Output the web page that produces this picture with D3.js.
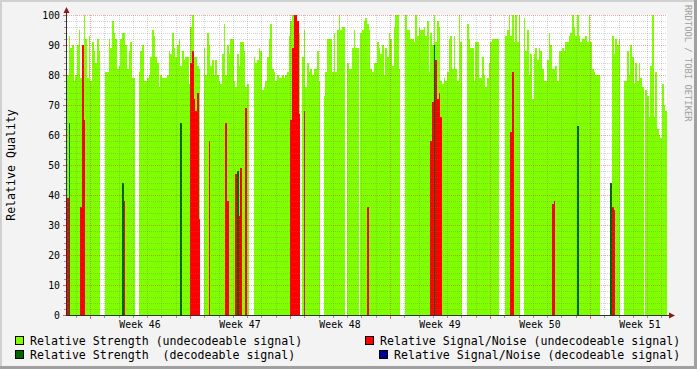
<!DOCTYPE html>
<html><head><meta charset="utf-8">
<script src="https://cdn.jsdelivr.net/npm/d3@7/dist/d3.min.js"></script>
<style>
body{margin:0;background:#f3f3f3;}
svg{display:block;}
text{font-family:"DejaVu Sans Mono",monospace;}
</style>
</head><body>
<svg id="chart" width="697" height="369"></svg>
<script>
// ---------------- DATA ----------------
// time slots: one every 168 minutes, starting at startTime (UTC)
const startTime = Date.UTC(2008, 10, 8, 9, 21, 36);
const stepMinutes = 168;
const slotCount = 360;

// Relative Strength (undecodeable signal), one value per slot, null = no data
const strengthUndecodeable = [
  80,93,89,90,78,80,90,95,79,90,100,92,79,93,78,91,88,84,92,88,
  null,null,null,
  81,81,92,89,98,94,92,82,83,92,94,94,90,82,88,91,79,79,
  null,null,
  81,88,90,78,78,79,80,86,95,93,86,84,76,80,
  79,79,79,80,88,87,94,89,86,90,92,83,88,85,86,86,77,96,100,86,86,83,82,
  null,null,
  89,80,94,90,83,85,80,85,80,78,77,87,97,80,90,87,92,92,78,76,87,83,91,91,88,76,77,
  null,null,null,
  86,84,85,89,88,75,76,78,86,92,97,82,81,78,80,79,79,80,79,80,81,93,
  98,100,100,100,94,94,
  null,
  86,95,76,84,81,82,80,82,82,88,78,
  null,null,
  73,81,92,92,92,81,94,81,95,100,95,96,96,
  null,
  84,82,82,89,95,89,89,
  null,
  94,95,98,99,97,95,82,81,84,84,91,89,87,90,80,89,86,94,92,83,96,100,100,82,
  null,null,null,
  100,95,95,92,92,91,100,93,96,95,95,96,93,98,81,94,90,100,91,98,96,78,77,79,78,81,92,93,82,93,82,78,100,91,
  null,null,null,
  97,92,89,89,78,91,91,79,79,86,80,76,79,84,91,92,92,92,92,
  null,null,null,null,
  93,95,100,93,100,91,100,91,100,
  null,null,
  99,88,95,80,87,72,87,89,85,89,88,82,78,78,85,94,90,82,82,83,78,88,88,89,88,91,
  91,93,94,100,96,93,100,93,91,92,92,93,91,100,91,82,81,80,80,80,
  null,null,null,null,null,null,null,
  93,87,92,90,92,
  null,null,
  78,78,88,80,90,86,77,84,78,84,79,76,
  null,
  75,73,66,83,100,66,81,62,60,59,77,70,68
];

// Relative Signal/Noise (undecodeable signal): [slot, value]
const snUndecodeable = [
  [0,39],[8,36],[9,90],[10,65],[33,36],[34,38],
  [74,84],[75,88],[76,72],[77,68],[78,74],[79,32],
  [85,58],[95,64],[96,38],
  [101,47],[102,45],[103,33],[104,49],[107,69],
  [134,65],[135,89],[136,100],[137,100],[138,98],[139,67],[142,68],
  [180,36],
  [218,58],[219,71],[220,85],[221,85],[222,72],[223,74],[224,66],
  [266,61],[267,81],[291,37],[292,38],[306,48],
  [326,38],[327,36],[328,35]
];

// Relative Strength (decodeable signal): [slot, value]
const strengthDecodeable = [
  [1,64],[33,44],[68,64],[102,48],[220,90],[306,63],[326,44]
];

// Relative Signal/Noise (decodeable signal): [slot, value]
const snDecodeable = [];

const yTickValues = [0,10,20,30,40,50,60,70,80,90,100];
const weekNumbers = [46,47,48,49,50,51];
const legendLabels = [
  "Relative Strength (undecodeable signal)",
  "Relative Signal/Noise (undecodeable signal)",
  "Relative Strength  (decodeable signal)",
  "Relative Signal/Noise (decodeable signal)"
];
const seriesColors = ["#7fff00","#ff0000","#006600","#000099"];

// ---------------- CHART ----------------
const W = 697, H = 369;
const svg = d3.select("#chart");
const stepMs = stepMinutes * 60000;
const slotTime = i => new Date(startTime + i * stepMs);
const endTime = slotTime(slotCount);

const x = d3.scaleUtc().domain([new Date(startTime), endTime]).range([67, 667]);
const y = d3.scaleLinear().domain([0, 100]).range([315, 15]);

// background + frame
svg.append("rect").attr("x",0).attr("y",0).attr("width",W).attr("height",H).attr("fill","#f3f3f3");
svg.append("rect").attr("x",0).attr("y",0).attr("width",W).attr("height",2).attr("fill","#d0d0d0");
svg.append("rect").attr("x",0).attr("y",0).attr("width",2).attr("height",H).attr("fill","#d0d0d0");
svg.append("rect").attr("x",W-3).attr("y",0).attr("width",3).attr("height",H).attr("fill","#a0a0a0");
svg.append("rect").attr("x",0).attr("y",H-3).attr("width",W).attr("height",3).attr("fill","#a0a0a0");

// canvas
svg.append("rect").attr("x",x.range()[0]).attr("y",y(100)).attr("width",x.range()[1]-x.range()[0])
  .attr("height",y(0)-y(100)).attr("fill","#ffffff");

const dataG = svg.append("g").attr("shape-rendering","crispEdges");
function drawBars(pairs, color) {
  dataG.append("g").selectAll("rect").data(pairs.filter(d => d[1] != null)).join("rect")
    .attr("x", d => Math.round(x(slotTime(d[0]))))
    .attr("width", d => Math.max(1, Math.round(x(slotTime(d[0]+1))) - Math.round(x(slotTime(d[0])))))
    .attr("y", d => Math.round(y(d[1])))
    .attr("height", d => y(0) - Math.round(y(d[1])))
    .attr("fill", color);
}
drawBars(strengthUndecodeable.map((v,i) => [i,v]), seriesColors[0]);
drawBars(snUndecodeable, seriesColors[1]);
drawBars(strengthDecodeable, seriesColors[2]);
drawBars(snDecodeable, seriesColors[3]);

// grid
const minorColor = "rgba(120,120,120,0.32)";
const majorColor = "rgba(220,40,40,0.42)";
const gridG = svg.append("g").attr("shape-rendering","crispEdges");
const minorY = d3.range(0, 101, 2).filter(v => v % 10 !== 0);
gridG.selectAll("line.hmin").data(minorY).join("line")
  .attr("x1", 67).attr("x2", 667)
  .attr("y1", d => Math.round(y(d))+0.5).attr("y2", d => Math.round(y(d))+0.5)
  .attr("stroke",minorColor).attr("stroke-dasharray","1,1");
const days = d3.utcDay.range(new Date(startTime), endTime).filter(d => d.getUTCDay() !== 1);
gridG.selectAll("line.vmin").data(days).join("line")
  .attr("x1", d => Math.round(x(d))+0.5).attr("x2", d => Math.round(x(d))+0.5)
  .attr("y1", 15).attr("y2", 315)
  .attr("stroke",minorColor).attr("stroke-dasharray","1,1");
gridG.selectAll("line.hmaj").data(yTickValues.filter(v => v > 0)).join("line")
  .attr("x1", 67).attr("x2", 667)
  .attr("y1", d => Math.round(y(d))+0.5).attr("y2", d => Math.round(y(d))+0.5)
  .attr("stroke",majorColor).attr("stroke-dasharray","1,1");
const mondays = d3.utcMonday.range(new Date(startTime), endTime);
gridG.selectAll("line.vmaj").data(mondays).join("line")
  .attr("x1", d => Math.round(x(d))+0.5).attr("x2", d => Math.round(x(d))+0.5)
  .attr("y1", 15).attr("y2", 315)
  .attr("stroke",majorColor).attr("stroke-dasharray","1,1");

// tick marks
const tickG = svg.append("g").attr("shape-rendering","crispEdges");
tickG.selectAll("line.xt").data(days).join("line")
  .attr("x1", d => Math.round(x(d))+0.5).attr("x2", d => Math.round(x(d))+0.5)
  .attr("y1", 316).attr("y2", 318).attr("stroke","#999");
tickG.selectAll("line.xtm").data(mondays).join("line")
  .attr("x1", d => Math.round(x(d))+0.5).attr("x2", d => Math.round(x(d))+0.5)
  .attr("y1", 316).attr("y2", 319).attr("stroke","#e06060");
tickG.selectAll("line.yt").data(minorY).join("line")
  .attr("x1", 64).attr("x2", 66)
  .attr("y1", d => Math.round(y(d))+0.5).attr("y2", d => Math.round(y(d))+0.5).attr("stroke","#999");
tickG.selectAll("line.ytm").data(yTickValues).join("line")
  .attr("x1", 63).attr("x2", 66)
  .attr("y1", d => Math.round(y(d))+0.5).attr("y2", d => Math.round(y(d))+0.5).attr("stroke","#e06060");

// axes
tickG.append("line").attr("x1",66.5).attr("x2",66.5).attr("y1",11).attr("y2",316).attr("stroke","#303030");
tickG.append("line").attr("x1",66).attr("x2",670).attr("y1",315.5).attr("y2",315.5).attr("stroke","#303030");
svg.append("path").attr("d","M63.5,13 L66.5,7 L69.5,13 Z").attr("fill","#8b1a1a");
svg.append("path").attr("d","M669,312.5 L675,315.5 L669,318.5 Z").attr("fill","#8b1a1a");

// y tick labels
svg.append("g").selectAll("text").data(yTickValues).join("text")
  .attr("x", 60).attr("y", d => y(d) + 3.6)
  .attr("text-anchor","end").attr("font-size","9.8px").attr("fill","#000")
  .text(d => d);

// week labels (centred in the week)
svg.append("g").selectAll("text").data(mondays.map((m,i) => ({m, n: weekNumbers[i]}))).join("text")
  .attr("x", d => x(new Date(d.m.getTime() + 3.5*86400000)))
  .attr("y", 328)
  .attr("text-anchor","middle").attr("font-size","9.8px").attr("fill","#000")
  .text(d => "Week " + d.n);

// y axis title
svg.append("text").attr("transform","translate(15,165) rotate(-90)")
  .attr("text-anchor","middle").attr("font-size","11.6px").attr("fill","#000")
  .text("Relative Quality");

// watermark
svg.append("text").attr("transform","translate(684.5,5) rotate(90)")
  .attr("font-size","8.8px").attr("fill","#a0a0a0")
  .text("RRDTOOL / TOBI OETIKER");

// legend
const legendPos = [
  {sx:15.5, sy:336.5, tx:30, ty:345},
  {sx:365.5, sy:336.5, tx:380, ty:345},
  {sx:15.5, sy:350.5, tx:30, ty:358.5},
  {sx:379.5, sy:350.5, tx:394, ty:358.5}
];
const leg = svg.append("g");
[0,1,2,3].forEach(k => {
  const p = legendPos[k];
  leg.append("rect").attr("x",p.sx).attr("y",p.sy).attr("width",8).attr("height",8)
    .attr("fill",seriesColors[k]).attr("stroke","#000").attr("stroke-width",1);
  leg.append("text").attr("x",p.tx).attr("y",p.ty).attr("font-size","11.6px")
    .attr("fill","#000").style("white-space","pre")
    .text(legendLabels[k]);
});
</script>
</body></html>
